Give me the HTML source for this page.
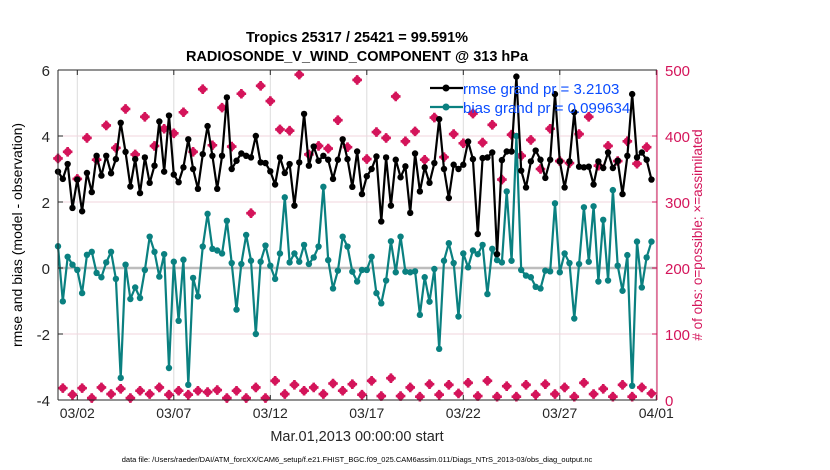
<!DOCTYPE html>
<html><head><meta charset="utf-8"><style>
body{margin:0;background:#fff;}
svg{display:block;font-family:"Liberation Sans",sans-serif;}
</style></head><body>
<svg id="chart" width="830" height="470" viewBox="0 0 830 470" xmlns="http://www.w3.org/2000/svg">
<rect width="830" height="470" fill="#fff"/>
<text x="357" y="42" text-anchor="middle" font-size="14.5" font-weight="bold">Tropics 25317 / 25421 = 99.591%</text>
<text x="357" y="61" text-anchor="middle" font-size="14.5" font-weight="bold">RADIOSONDE_V_WIND_COMPONENT @ 313 hPa</text>
<g id="grid"></g>
<g id="marks"></g>
<g id="axes"></g>
<text transform="translate(22,235) rotate(-90)" text-anchor="middle" font-size="14">rmse and bias (model - observation)</text>
<text transform="translate(702,235) rotate(-90)" text-anchor="middle" font-size="13.5" fill="#d4145a"># of obs: o=possible; ×=assimilated</text>
<text x="357" y="441" text-anchor="middle" font-size="14.5" fill="#262626">Mar.01,2013 00:00:00 start</text>
<text x="357" y="462" text-anchor="middle" font-size="7.5">data file: /Users/raeder/DAI/ATM_forcXX/CAM6_setup/f.e21.FHIST_BGC.f09_025.CAM6assim.011/Diags_NTrS_2013-03/obs_diag_output.nc</text>
<g id="legend">
<line x1="430" y1="88" x2="463" y2="88" stroke="#000" stroke-width="2.2"/>
<circle cx="446" cy="88" r="3.5" fill="#000"/>
<line x1="430" y1="107" x2="463" y2="107" stroke="#0a8080" stroke-width="2.2"/>
<circle cx="446" cy="107" r="3.5" fill="#0a8080"/>
</g>
</svg>
<script>
const rmse=[2.92,2.7,3.15,1.82,2.68,1.72,2.88,2.3,3.4,2.8,3.4,2.87,3.3,4.4,3.52,2.47,3.3,2.27,3.35,2.58,3.1,4.44,2.92,4.62,2.83,2.6,3.05,3.9,3.0,2.4,3.45,4.3,3.4,2.4,3.4,5.17,3.0,3.25,3.47,3.4,3.35,4.0,3.2,3.18,2.93,2.53,3.35,2.88,3.15,1.89,3.2,4.67,3.1,3.68,3.25,3.4,3.28,2.7,3.28,3.9,3.3,2.46,3.53,2.24,2.78,3.0,3.38,1.41,3.35,1.89,3.28,2.75,3.08,1.67,3.47,2.32,3.05,2.58,3.18,4.51,3.0,2.12,3.13,3.0,3.13,3.83,3.3,1.03,3.33,3.35,3.5,0.42,3.27,3.53,3.53,5.8,2.95,2.44,3.23,3.56,3.28,2.73,3.28,5.27,3.23,2.44,3.23,4.72,3.07,3.05,3.07,2.53,3.23,3.03,3.5,3.03,3.25,2.24,3.4,5.27,3.35,3.5,3.28,2.68];
const bias=[0.66,-1.01,0.34,0.1,-0.06,-0.76,0.4,0.49,-0.15,-0.28,0.17,0.49,-0.33,-3.33,0.1,-0.94,-0.59,-0.91,-0.06,0.95,0.49,-0.26,0.42,-3.03,0.19,-1.6,0.25,-3.54,-0.3,-0.86,0.65,1.64,0.58,0.53,0.44,1.43,0.15,-1.26,0.12,1.0,0.22,-2.0,0.19,0.68,0.07,-0.33,0.44,2.14,0.17,0.44,0.19,0.7,0.12,0.32,0.65,2.46,0.24,-0.62,-0.08,0.95,0.65,-0.11,-0.41,-0.06,-0.06,0.34,-0.76,-1.07,-0.38,0.81,-0.13,0.95,-0.11,-0.13,-0.1,-1.42,-0.28,-1.02,-0.03,-2.45,0.22,0.75,0.15,-1.47,0.44,0.02,0.53,0.42,0.7,-0.79,0.58,0.24,0.17,2.32,0.22,4.0,-0.06,-0.23,-0.28,-0.57,-0.62,-0.08,-0.1,1.96,-0.13,0.44,0.15,-1.53,0.12,1.84,0.19,1.87,-0.41,1.46,-0.38,2.36,0.07,-0.69,0.39,-3.57,0.8,-0.59,0.32,0.8];
const obsHigh=[366,376,335,397,364,416,382,441,372,429,385,411,404,436,376,471,386,443,384,464,283,476,453,410,408,493,372,385,381,424,383,485,365,406,397,460,392,407,364,428,368,403,389,434,390,417,334,402,370,394,350,411,362,359,403,429,355,385,362,392,358,383];
const obsLow=[18,8,18,3,19,9,17,3,14,9,19,8,14,8,14,12,15,3,14,3,19,3,29,9,23,14,19,9,25,14,24,8,29,6,33,6,19,5,24,8,23,10,26,6,29,5,21,5,23,8,24,9,19,5,26,9,17,5,23,5,19,10];
const dateTicks=[1,6,11,16,21,26,31];
const dateLabels=["03/02","03/07","03/12","03/17","03/22","03/27","04/01"];
const leftTicks=[-4,-2,0,2,4,6];
const rightTicks=[0,100,200,300,400,500];

const X0=58,X1=657,Y0=70,Y1=400;
const xs=d=>X0+d*19.3;
const yl=v=>Y1-(v+4)/10*(Y1-Y0);
const yr=v=>Y1-v/500*(Y1-Y0);
const NS="http://www.w3.org/2000/svg";
function mk(parent,tag,attrs){const e=document.createElementNS(NS,tag);for(const k in attrs)e.setAttribute(k,attrs[k]);parent.appendChild(e);return e;}
const grid=document.getElementById('grid'),marks=document.getElementById('marks'),axes=document.getElementById('axes');

dateTicks.forEach((d,i)=>{
  const x=xs(d);
  const g=mk(grid,'line',{x1:x,x2:x,y1:Y0,y2:Y1,stroke:'#dcdcdc','stroke-width':1});
  
  
  const t=mk(axes,'text',{x:x,y:418,'text-anchor':'middle','font-size':14,fill:'#262626'});
  t.textContent=dateLabels[i];
  
  
  mk(axes,'line',{x1:x,x2:x,y1:Y1,y2:Y1-5,stroke:'#262626'});
  mk(axes,'line',{x1:x,x2:x,y1:Y0,y2:Y0+5,stroke:'#262626'});
});
rightTicks.forEach(v=>{
  const y=yr(v);
  if(v>0&&v<500){const g=mk(grid,'line',{x1:X0,x2:X1,y1:y,y2:y,stroke:'#f0d4de','stroke-width':1});
  
  }
  const t=mk(axes,'text',{x:X1+8,y:y+6,'font-size':15,fill:'#d4145a'});
  t.textContent=v;
  
  
  mk(axes,'line',{x1:X1,x2:X1-5,y1:y,y2:y,stroke:'#d4145a'});
});
const zl=mk(grid,'line',{x1:X0,x2:X1,y1:yl(0),y2:yl(0),stroke:'#bdbdbd','stroke-width':2.5});


leftTicks.forEach(v=>{
  const y=yl(v);
  const t=mk(axes,'text',{x:X0-8,y:y+6,'text-anchor':'end','font-size':15,fill:'#262626'});
  t.textContent=v;
  
  
  mk(axes,'line',{x1:X0,x2:X0+5,y1:y,y2:y,stroke:'#262626'});
});
mk(axes,'line',{x1:X0,x2:X1,y1:Y0,y2:Y0,stroke:'#262626'});
mk(axes,'line',{x1:X0,x2:X1,y1:Y1,y2:Y1,stroke:'#262626'});
mk(axes,'line',{x1:X0,x2:X0,y1:Y0,y2:Y1,stroke:'#262626'});
mk(axes,'line',{x1:X1,x2:X1,y1:Y0,y2:Y1,stroke:'#d4145a'});

function obsMarker(x,y){
  const g=mk(marks,'g',{});
  
  
  mk(g,'circle',{cx:x,cy:y,r:3.8,fill:'#d4145a'});
  mk(g,'path',{d:`M${x-4.8},${y}H${x+4.8}M${x},${y-4.8}V${y+4.8}`,stroke:'#d4145a','stroke-width':2.6});
}
obsHigh.forEach((v,i)=>obsMarker(xs(i*0.5),yr(v)));
obsLow.forEach((v,i)=>obsMarker(xs(i*0.5+0.25),yr(v)));

function series(arr,color,name){
  const pts=arr.map((v,i)=>xs(i*0.25).toFixed(1)+','+yl(v).toFixed(1)).join(' ');
  const pl=mk(marks,'polyline',{points:pts,fill:'none',stroke:color,'stroke-width':2.2,'stroke-linejoin':'round'});
  
  
  arr.forEach((v,i)=>{
    const c=mk(marks,'circle',{cx:xs(i*0.25),cy:yl(v),r:3.2,fill:color});
    
    
  });
}
series(bias,'#0a8080','bias');
series(rmse,'#000','rmse');

const legend=document.getElementById('legend');
const l1=mk(legend,'text',{x:463,y:94,'font-size':15,fill:'#0a4cff'});
l1.textContent='rmse grand pr = 3.2103';


const l2=mk(legend,'text',{x:463,y:113,'font-size':15,fill:'#0a4cff'});
l2.textContent='bias grand pr = 0.099634';


document.getElementById('chart').appendChild(legend);
</script>
</body></html>
